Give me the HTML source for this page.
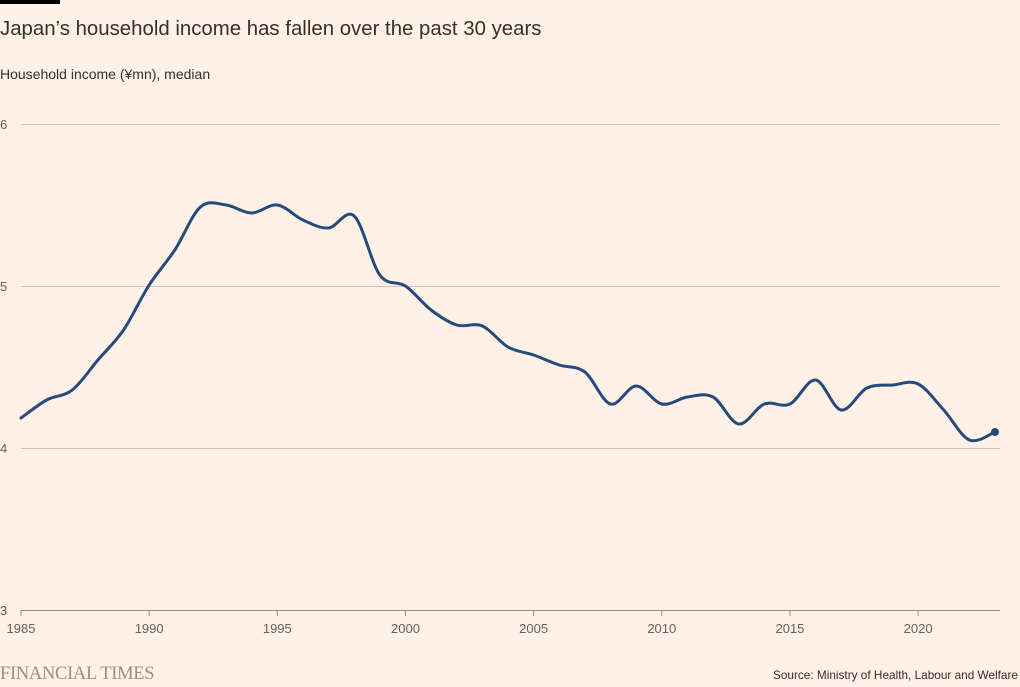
<!DOCTYPE html>
<html><head><meta charset="utf-8"><style>
body{margin:0;background:#fff1e5;width:1020px;height:682px;overflow:hidden;font-family:"Liberation Sans",sans-serif;}
</style></head><body>
<svg width="1020" height="682" xmlns="http://www.w3.org/2000/svg">
<rect x="0" y="0" width="1020" height="682" fill="#fff1e5"/>
<rect x="0" y="0" width="60" height="4" fill="#000"/>
<text x="0" y="35" font-size="20.4" fill="#33302e" font-family="Liberation Sans, sans-serif">Japan’s household income has fallen over the past 30 years</text>
<text x="0" y="79" font-size="14" fill="#33302e" font-family="Liberation Sans, sans-serif">Household income (¥mn), median</text>
<g stroke="#ccc1b7" stroke-width="1">
<line x1="21" x2="1000" y1="124.5" y2="124.5"/>
<line x1="21" x2="1000" y1="286.5" y2="286.5"/>
<line x1="21" x2="1000" y1="448.5" y2="448.5"/>
</g>
<line x1="21" x2="1000" y1="610.5" y2="610.5" stroke="#948b84" stroke-width="1"/>
<g stroke="#948b84" stroke-width="1" id="ticks"></g>
<g font-size="13" fill="#66605c" font-family="Liberation Sans, sans-serif">
<text x="0" y="129">6</text><text x="0" y="291">5</text><text x="0" y="453">4</text><text x="0" y="615">3</text>
<g id="xl" text-anchor="middle"></g>
</g>
<path id="ln" fill="none" stroke="#264a7e" stroke-width="3" stroke-linejoin="round" stroke-linecap="round"/>
<circle cx="995" cy="432" r="4" fill="#264a7e"/>
<text x="0" y="679" font-size="18.5" fill="#998f87" font-family="Liberation Serif, serif" letter-spacing="-0.3">FINANCIAL TIMES</text>
<text x="1018" y="679" font-size="11.8" fill="#33302e" text-anchor="end" font-family="Liberation Sans, sans-serif">Source: Ministry of Health, Labour and Welfare</text>
</svg>
<script>
var ys=[418,400,390,360,330,285,250,207,205,213,205,220,228,216,275,286,310,325,326,347,355,365,372,404,386,404,397,397,424,404,404,380,410,388,385,384,410,440,432];
var X=function(i){return 21+i*(974/38);};
var p=ys.map(function(y,i){return [X(i),y];});
var d="M"+p[0][0]+","+p[0][1];
for(var i=0;i<p.length-1;i++){
 var p0=p[i-1]||p[i],p1=p[i],p2=p[i+1],p3=p[i+2]||p2,t=6;
 d+=" C"+(p1[0]+(p2[0]-p0[0])/t)+","+(p1[1]+(p2[1]-p0[1])/t)+" "+(p2[0]-(p3[0]-p1[0])/t)+","+(p2[1]-(p3[1]-p1[1])/t)+" "+p2[0]+","+p2[1];
}
document.getElementById("ln").setAttribute("d",d);
var tk="",xl="";
for(var y=1985;y<=2020;y+=5){var x=X(y-1985);tk+='<line x1="'+x+'" x2="'+x+'" y1="610" y2="616"/>';xl+='<text x="'+x+'" y="633">'+y+'</text>';}
document.getElementById("ticks").innerHTML=tk;
document.getElementById("xl").innerHTML=xl;
</script>
</body></html>
